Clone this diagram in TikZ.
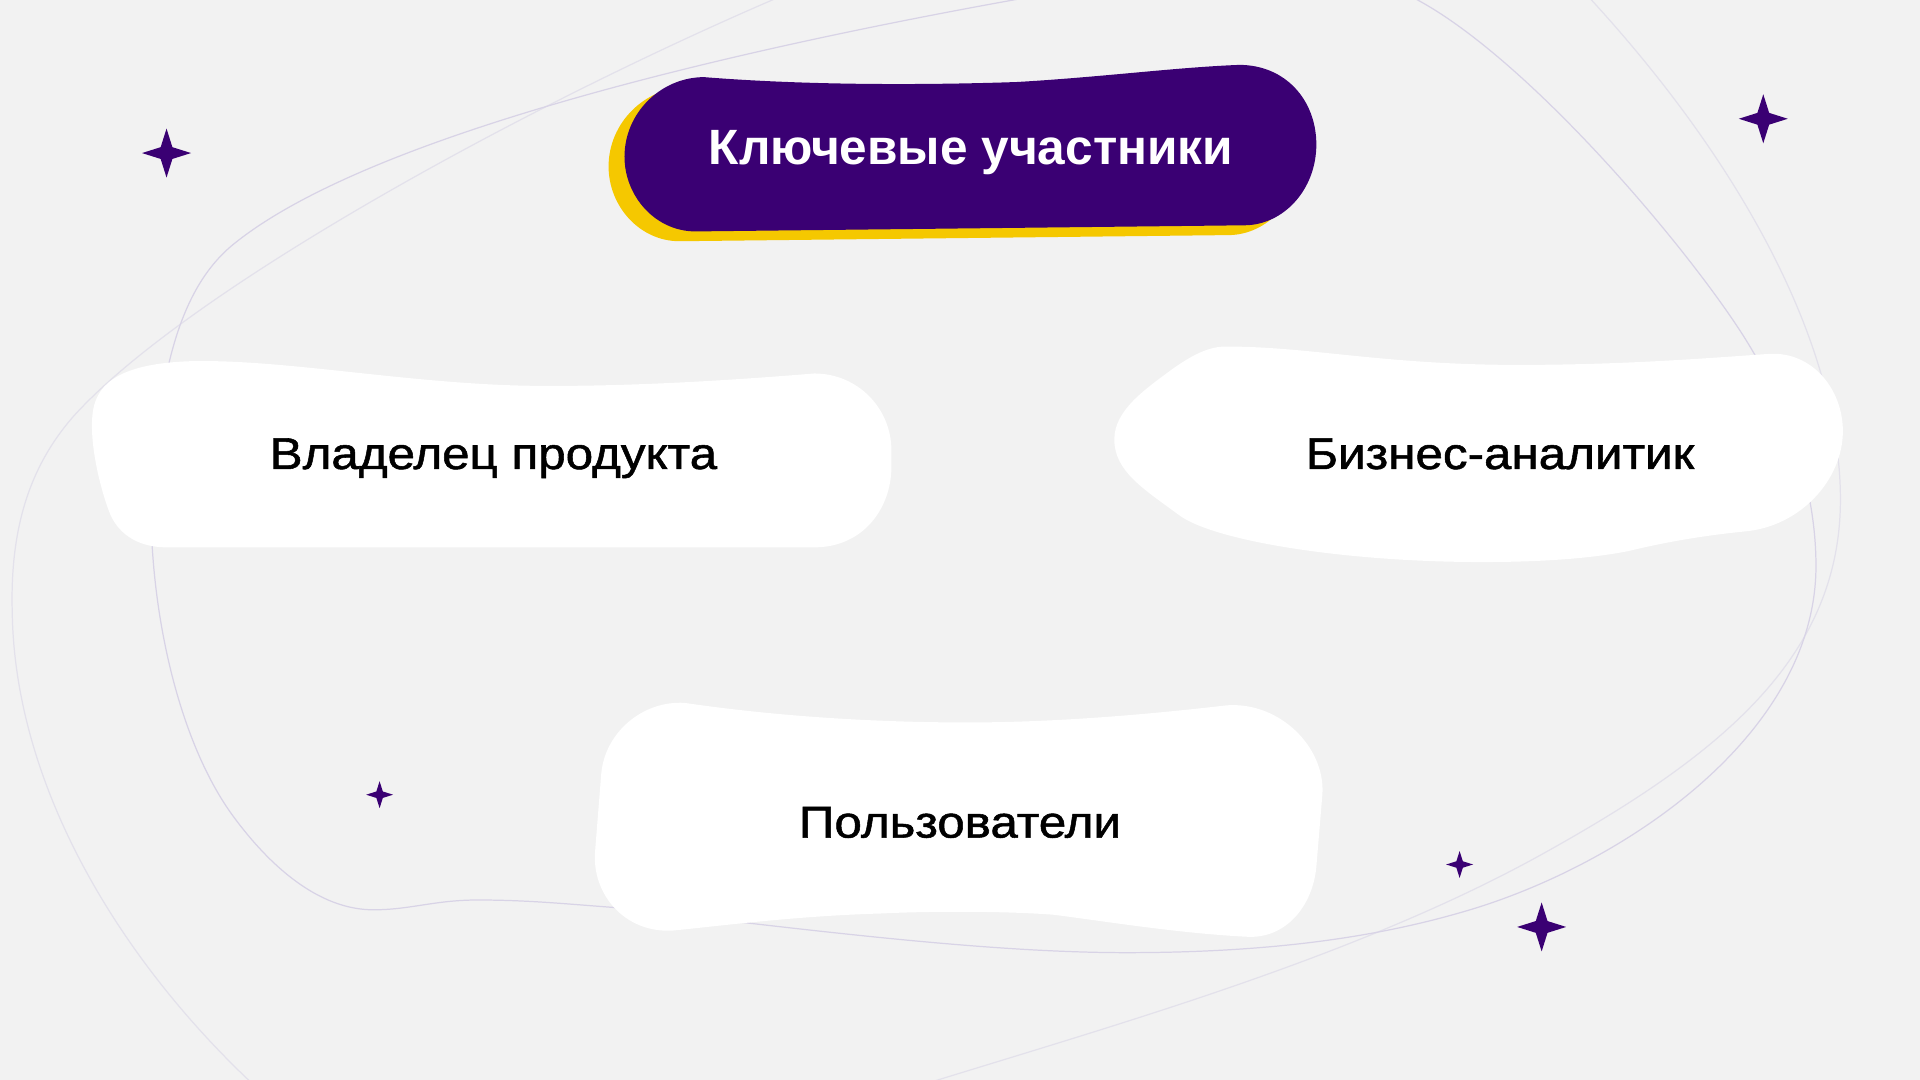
\documentclass[tikz,border=0pt]{standalone}
\usepackage{fontspec}
\setmainfont{Liberation Sans}
\newfontfamily\lblfont[FakeStretch=1.11, FakeBold=1.2]{Liberation Sans}
\definecolor{bgc}{HTML}{F2F2F2}
\definecolor{purp}{HTML}{3A0073}
\definecolor{yell}{HTML}{F5C800}
\definecolor{lineA}{HTML}{D8D3E6}
\definecolor{lineB}{HTML}{E3E1EB}
\tikzset{
  bgline/.style={line width=1pt},
  blob/.style={fill=white},
  lbl/.style={font=\lblfont\fontsize{36.3}{40}\selectfont, text=black, inner sep=0pt, anchor=base},
  ttl/.style={font=\fontsize{40.5}{44}\selectfont\bfseries, text=white, inner sep=0pt, anchor=base},
  sparkle/.pic={\fill[purp] (0,1) -- (0.24,0.24) -- (1,0) -- (0.24,-0.24) -- (0,-1) -- (-0.24,-0.24) -- (-1,0) -- (-0.24,0.24) -- cycle;}
}
\begin{document}
\begin{tikzpicture}[x=1pt,y=-1pt]
\fill[bgc] (0,0) rectangle (1568,882);
\useasboundingbox (0,0) rectangle (1568,882);
\begin{scope}
\clip (0,0) rectangle (1568,882);
% background curves
\draw[lineB, bgline] (640,-4) .. controls (420,90) and (150,240) .. (60,340)
  .. controls (25,380) and (8,430) .. (10,500)
  .. controls (12,640) and (95,780) .. (205,884);
\draw[lineB, bgline] (1296,-4) .. controls (1420,130) and (1503,280) .. (1503,408)
  .. controls (1503,540) and (1400,620) .. (1255,700)
  .. controls (1100,785) and (900,840) .. (740,890);
\draw[lineA, bgline] (850,-4) .. controls (600,40) and (300,110) .. (190,200)
  .. controls (150,233) and (125,300) .. (124,441)
  .. controls (128,521) and (150,611) .. (190,666)
  .. controls (220,707) and (260,743) .. (305,743)
  .. controls (335,743) and (355,735) .. (390,735)
  .. controls (430,735) and (460,738) .. (500,741)
  .. controls (650,758) and (800,778) .. (920,778)
  .. controls (1040,778) and (1130,765) .. (1207,741)
  .. controls (1330,702) and (1480,600) .. (1483,466)
  .. controls (1484,400) and (1460,330) .. (1421,270)
  .. controls (1370,192) and (1240,40) .. (1150,-4);
\end{scope}
% title blob: shadow then purple
\begin{scope}[shift={(-13,8)}]
\fill[yell] (575,63) .. controls (650,69) and (740,70) .. (830,67) .. controls (900,63) and (960,55) .. (1012,53)
  .. controls (1050,53) and (1075,82) .. (1075,118) .. controls (1075,155) and (1048,184) .. (1016,184)
  -- (568,189) .. controls (535,189) and (510,160) .. (510,128) .. controls (510,92) and (540,63) .. (575,63) -- cycle;
\end{scope}
\fill[purp] (575,63) .. controls (650,69) and (740,70) .. (830,67) .. controls (900,63) and (960,55) .. (1012,53)
  .. controls (1050,53) and (1075,82) .. (1075,118) .. controls (1075,155) and (1048,184) .. (1016,184)
  -- (568,189) .. controls (535,189) and (510,160) .. (510,128) .. controls (510,92) and (540,63) .. (575,63) -- cycle;
% owner blob
\fill[blob] (136,447) -- (665,447) .. controls (705,447) and (728,415) .. (728,381) -- (728,368)
  .. controls (728,333) and (700,305) .. (665,305)
  .. controls (580,312) and (500,316) .. (430,315) .. controls (330,313) and (230,293) .. (155,295)
  .. controls (100,297) and (80,312) .. (76,335) .. controls (72,360) and (82,400) .. (90,420)
  .. controls (98,438) and (115,447) .. (136,447) -- cycle;
% analyst blob
\fill[blob] (1001,283) .. controls (1070,283) and (1130,298) .. (1240,298) .. controls (1330,298) and (1400,292) .. (1445,289)
  .. controls (1480,287) and (1505,318) .. (1505,352) .. controls (1505,392) and (1470,430) .. (1425,434)
  .. controls (1385,438) and (1355,444) .. (1330,450) .. controls (1290,458) and (1240,459) .. (1210,459)
  .. controls (1100,459) and (990,442) .. (962,420)
  .. controls (935,400) and (910,385) .. (910,359) .. controls (910,335) and (935,318) .. (958,301)
  .. controls (975,289) and (988,283) .. (1001,283) -- cycle;
% users blob
\fill[blob] (559,574) .. controls (620,583) and (700,590) .. (790,590) .. controls (870,590) and (950,582) .. (1002,576)
  .. controls (1045,573) and (1082,610) .. (1080,648) -- (1075,708)
  .. controls (1072,740) and (1050,767) .. (1018,765)
  .. controls (960,762) and (900,752) .. (860,747) .. controls (820,744) and (760,744) .. (720,746)
  .. controls (650,748) and (590,756) .. (549,760)
  .. controls (510,762) and (483,730) .. (486,695) -- (491,632)
  .. controls (494,598) and (525,572) .. (559,574) -- cycle;
% texts
\node[ttl] (title) at (793,134) {Ключевые участники};
\node[lbl] (owner) at (403,383) {Владелец продукта};
\node[lbl] (analyst) at (1225,383) {Бизнес-аналитик};
\node[lbl] (users) at (784,684) {Пользователи};
% sparkles
\pic[scale=20] (s1) at (136,125) {sparkle};
\pic[scale=20] (s2) at (1440,97) {sparkle};
\pic[scale=11] (s3) at (310,649) {sparkle};
\pic[scale=11] (s4) at (1192,706) {sparkle};
\pic[scale=20] (s5) at (1259,757) {sparkle};
\end{tikzpicture}
\end{document}
